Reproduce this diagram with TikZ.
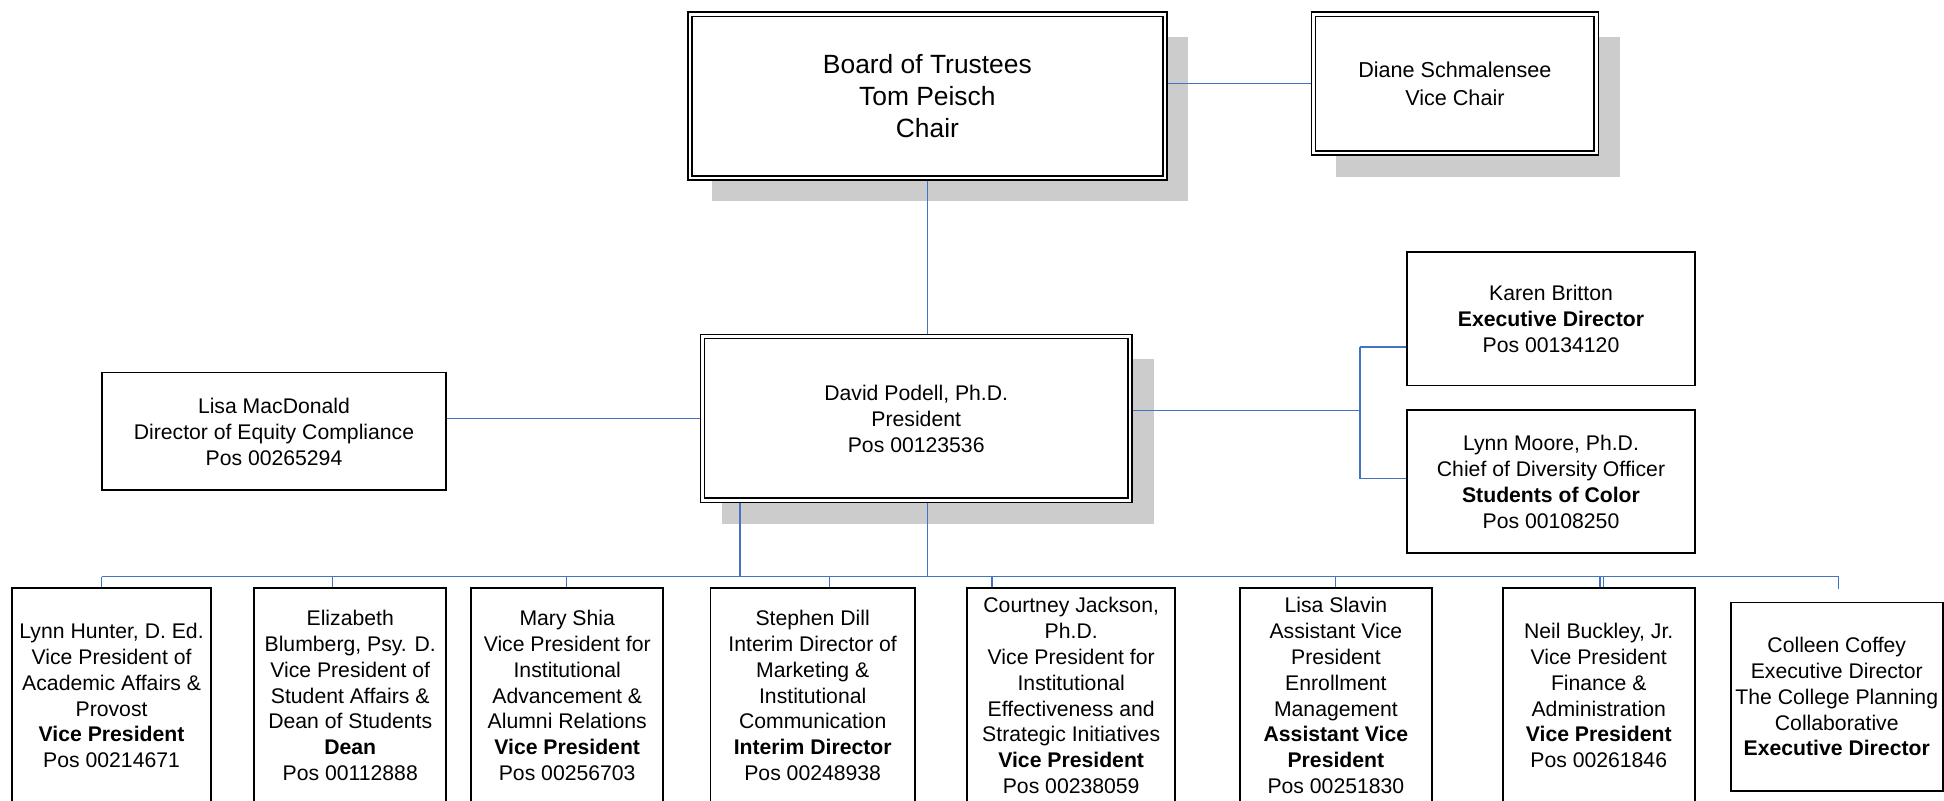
\documentclass[tikz,border=0pt]{standalone}
\usepackage{fontspec}
\setmainfont{Liberation Sans}
\usetikzlibrary{backgrounds}
\definecolor{linkblue}{HTML}{4472C4}
\begin{document}
\begin{tikzpicture}[x=0.62pt,y=-0.62pt,
  link/.style={draw=linkblue,line width=0.75pt},
  card/.style={draw=black,line width=0.9pt,fill=white,inner sep=0pt,outer sep=0pt,
    align=center,font=\fontsize{10.6}{13}\selectfont},
  dcard/.style={card,line width=0.75pt,double=white,double distance=1.3pt},
  shade/.style={fill=black!20,draw=none},
  staff/.style={card,font=\fontsize{10.6}{12.9}\selectfont,
    minimum height=174*0.62pt}
]
\useasboundingbox (0,0) rectangle (1568,646);
\clip (0,0) rectangle (1568,646);

% top of the chart
\node[dcard,font=\fontsize{13.2}{16}\selectfont,
  minimum width=383*0.62pt,minimum height=132*0.62pt] (board) at (748,77.5)
  {Board of Trustees\\Tom Peisch\\Chair};
\node[dcard,font=\fontsize{10.8}{14.2}\selectfont,
  minimum width=228*0.62pt,minimum height=112*0.62pt] (vice) at (1173.5,67.5)
  {Diane Schmalensee\\Vice Chair};
\node[dcard,minimum width=345*0.62pt,minimum height=132*0.62pt] (pres) at (739,337.5)
  {David Podell, Ph.D.\\President\\Pos 00123536};

% staff reporting beside the president
\node[card,minimum width=277*0.62pt,minimum height=95*0.62pt] (equity) at (221,348)
  {Lisa MacDonald\\Director of Equity Compliance\\Pos 00265294};
\node[card,minimum width=232*0.62pt,minimum height=108*0.62pt] (britton) at (1251,257)
  {Karen Britton\\\textbf{Executive Director}\\Pos 00134120};
\node[card,minimum width=232*0.62pt,minimum height=115*0.62pt] (moore) at (1251,388.5)
  {Lynn Moore, Ph.D.\\Chief of Diversity Officer\\\textbf{Students of Color}\\Pos 00108250};

% vice presidents and directors
\node[staff,minimum width=160*0.62pt] (h1) at (90,561)
  {Lynn Hunter, D. Ed.\\Vice President of\\Academic Affairs \&\\Provost\\\textbf{Vice President}\\Pos 00214671};
\node[staff,minimum width=155*0.62pt] (h2) at (282.5,561)
  {Elizabeth\\Blumberg, Psy. D.\\Vice President of\\Student Affairs \&\\Dean of Students\\\textbf{Dean}\\Pos 00112888};
\node[staff,minimum width=155*0.62pt] (h3) at (457.5,561)
  {Mary Shia\\Vice President for\\Institutional\\Advancement \&\\Alumni Relations\\\textbf{Vice President}\\Pos 00256703};
\node[staff,minimum width=165*0.62pt] (h4) at (655.5,561)
  {Stephen Dill\\Interim Director of\\Marketing \&\\Institutional\\Communication\\\textbf{Interim Director}\\Pos 00248938};
\node[staff,minimum width=168*0.62pt] (h5) at (864,561)
  {Courtney Jackson,\\Ph.D.\\Vice President for\\Institutional\\Effectiveness and\\Strategic Initiatives\\\textbf{Vice President}\\Pos 00238059};
\node[staff,minimum width=155*0.62pt] (h6) at (1077.5,561)
  {Lisa Slavin\\Assistant Vice\\President\\Enrollment\\Management\\\textbf{Assistant Vice}\\\textbf{President}\\Pos 00251830};
\node[staff,minimum width=155*0.62pt] (h7) at (1289.5,561)
  {Neil Buckley, Jr.\\Vice President\\Finance \&\\Administration\\\textbf{Vice President}\\Pos 00261846};
\node[staff,minimum width=171*0.62pt,minimum height=152*0.62pt] (h8) at (1481.5,562)
  {Colleen Coffey\\Executive Director\\The College Planning\\Collaborative\\\textbf{Executive Director}};

\begin{scope}[on background layer]
  % drop shadows of the double-framed boxes
  \fill[shade] ([shift={(18,18)}]board.north west) rectangle ([shift={(19,19)}]board.south east);
  \fill[shade] ([shift={(18,18)}]vice.north west) rectangle ([shift={(19,19)}]vice.south east);
  \fill[shade] ([shift={(16,18)}]pres.north west) rectangle ([shift={(19,19)}]pres.south east);

  % connectors
  \draw[link] (board.south) -- (board.south |- pres.north);
  \draw[link] (board.east |- vice.west) -- (vice.west);
  \draw[link] (equity.east |- pres.west) -- (pres.west);

  \coordinate (rj) at (1097,331);
  \coordinate (kj) at (1097,280);
  \coordinate (lj) at (1097,386);
  \draw[link] (pres.east |- rj) -- (rj);
  \draw[link] (kj) -- (lj);
  \draw[link] (kj) -- (kj -| britton.west);
  \draw[link] (lj) -- (lj -| moore.west);

  \coordinate (drop) at (597,465);
  \coordinate (busW) at (82,465);
  \coordinate (busE) at (1483,465);
  \coordinate (stub8) at (1483,475);
  \draw[link] (drop |- pres.south) -- (drop);
  \draw[link] (board.south |- pres.south) -- (board.south |- busW);
  \draw[link] (busW) -- (busE);
  \foreach \n/\x in {h1/82,h2/268,h3/457,h4/669,h5/800,h6/1077,h7/1290.5,h7/1293.5}{
    \coordinate (t) at (\x,465);
    \draw[link] (t) -- (t |- \n.north);
  }
  \draw[link] (busE) -- (stub8);
\end{scope}
\end{tikzpicture}
\end{document}
